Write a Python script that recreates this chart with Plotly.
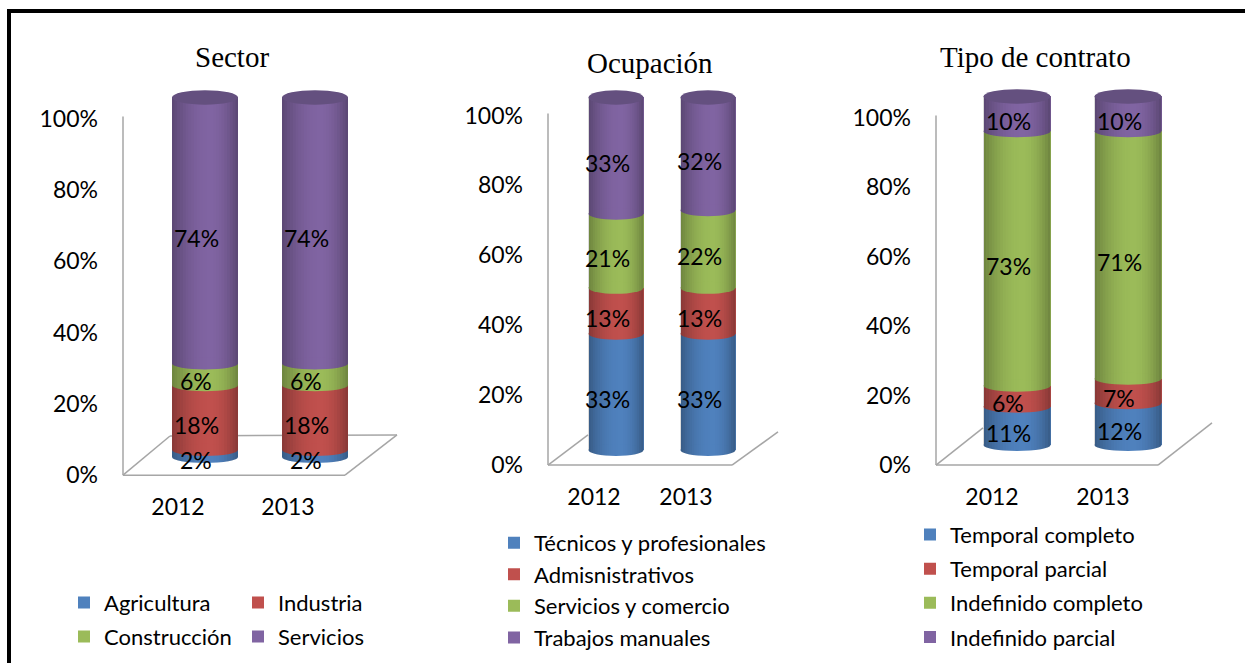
import math
import plotly.graph_objects as go

# ---------------- data ----------------
YEARS = ["2012", "2013"]
TICK_VALUES = [0, 20, 40, 60, 80, 100]
TICK_LABELS = ["0%", "20%", "40%", "60%", "80%", "100%"]

SECTOR_NAMES = ["Agricultura", "Industria", "Construcción", "Servicios"]
SECTOR_2012 = [2, 18, 6, 74]
SECTOR_2013 = [2, 18, 6, 74]

OCUP_NAMES = ["Técnicos y profesionales", "Admisnistrativos", "Servicios y comercio", "Trabajos manuales"]
OCUP_2012 = [33, 13, 21, 33]
OCUP_2013 = [33, 13, 22, 32]

CONTRATO_NAMES = ["Temporal completo", "Temporal parcial", "Indefinido completo", "Indefinido parcial"]
CONTRATO_2012 = [11, 6, 73, 10]
CONTRATO_2013 = [12, 7, 71, 10]

TITLES = ["Sector", "Ocupación", "Tipo de contrato"]

# ---------------- style / geometry ----------------
W, H = 1245, 663          # reference pixel space
FIG_H = 679               # figure height (compensates the capture's vertical scaling)
COLORS = ["#4F81BD", "#C0504D", "#9BBB59", "#8064A2"]
LID = "#64507F"
FLOOR = "#A6A6A6"
SANS = "Lato, Carlito, Calibri, sans-serif"
SERIF = "Liberation Serif, Times New Roman, serif"

# smooth cylinder shading: thin vertical bands, darker towards the edges
N_BANDS = 24
HIGHLIGHT_U = 0.15
SHADE = []
for b in range(N_BANDS):
    u0 = -1 + 2 * b / N_BANDS
    u1 = -1 + 2 * (b + 1) / N_BANDS
    um = (u0 + u1) / 2
    d = (HIGHLIGHT_U - um) / (1 + HIGHLIGHT_U) if um < HIGHLIGHT_U else (um - HIGHLIGHT_U) / (1 - HIGHLIGHT_U)
    a = 0.30 * d ** 2
    SHADE.append((u0, u1, f"rgba(0,0,0,{a:.3f})"))


def PX(x):
    return x / W


def PY(y):
    return 1 - y / H


panels = [
    dict(names=SECTOR_NAMES, v=[SECTOR_2012, SECTOR_2013], xl=123, xr=397, c=[205, 315], bw=66,
         ybot=473, y0=455, y100=97, t0=473, t100=118, title=(232, 57), lshift=-27,
         floor=[(123, 116, 123, 473), (123, 473, 345, 473), (345, 473, 397, 433),
                (397, 433, 170, 434), (170, 434, 123, 473)]),
    dict(names=OCUP_NAMES, v=[OCUP_2012, OCUP_2013], xl=548, xr=778, c=[616, 708], bw=55,
         ybot=463, y0=448, y100=97, t0=463, t100=115, title=(650, 63), lshift=-22,
         floor=[(548, 113, 548, 463), (548, 463, 732, 463), (732, 463, 778, 430),
                (548, 463, 588, 433)]),
    dict(names=CONTRATO_NAMES, v=[CONTRATO_2012, CONTRATO_2013], xl=936, xr=1212, c=[1017, 1128], bw=67,
         ybot=463, y0=443, y100=96, t0=463, t100=117, title=(1035, 57), lshift=-25,
         floor=[(936, 115, 936, 463), (936, 463, 1158, 463), (1158, 463, 1212, 421),
                (936, 463, 983, 426)]),
]

legend_of = [
    ["legend", "legend2", "legend", "legend2"],
    ["legend3"] * 4,
    ["legend4"] * 4,
]

fig = go.Figure()
layout = dict(
    width=W, height=FIG_H, margin=dict(l=0, r=0, t=0, b=0),
    paper_bgcolor="white", plot_bgcolor="rgba(0,0,0,0)",
    barmode="stack", showlegend=True,
    font=dict(family=SANS, size=22, color="black"),
)
shapes = []
annotations = []

TOP_VAL = 106
for i, p in enumerate(panels):
    n = i + 1
    sfx = "" if n == 1 else str(n)
    ppu = (p["y0"] - p["y100"]) / 100.0
    s = p["c"][1] - p["c"][0]
    xlo = (p["xl"] - p["c"][0]) / s
    xhi = (p["xr"] - p["c"][0]) / s
    ylo = -(p["ybot"] - p["y0"]) / ppu
    ytop_px = p["y0"] - TOP_VAL * ppu
    ppt = (p["t0"] - p["t100"]) / 100.0
    tlo = (p["t0"] - p["ybot"]) / ppt
    thi = (p["t0"] - ytop_px) / ppt
    width_u = p["bw"] / s
    xa, ya, ta = "x" + sfx, "y" + sfx, f"y{n + 3}"

    layout["xaxis" + sfx] = dict(
        domain=[PX(p["xl"]), PX(p["xr"])], range=[xlo, xhi], anchor=ya,
        type="category", categoryorder="array", categoryarray=YEARS,
        showgrid=False, zeroline=False, showline=False, ticks="",
        ticklabelshift=p["lshift"], ticklabelstandoff=16,
        tickfont=dict(family=SANS, size=23, color="black"), fixedrange=True)
    layout["yaxis" + sfx] = dict(
        domain=[PY(p["ybot"]), PY(ytop_px)], range=[ylo, TOP_VAL], anchor=xa,
        showgrid=False, zeroline=False, showline=False, showticklabels=False, ticks="",
        fixedrange=True)
    layout[f"yaxis{n + 3}"] = dict(
        overlaying=ya, anchor=xa, side="left", range=[tlo - 0.01, thi],
        tickmode="array", tickvals=TICK_VALUES, ticktext=TICK_LABELS,
        showgrid=False, zeroline=False, showline=False, ticks="",
        ticklabelstandoff=24, tickfont=dict(family=SANS, size=23, color="black"),
        fixedrange=True)

    # invisible trace to keep the tick axis drawn
    fig.add_trace(go.Scatter(x=[YEARS[0]], y=[None], xaxis=xa, yaxis=ta, mode="markers",
                             showlegend=False, hoverinfo="skip"))

    for k, name in enumerate(p["names"]):
        vals = [p["v"][j][k] for j in range(len(YEARS))]
        fig.add_trace(go.Bar(
            x=YEARS, y=vals, name=name, width=width_u, xaxis=xa, yaxis=ya,
            marker=dict(color=COLORS[k], line=dict(width=0)),
            legend=legend_of[i][k], legendgroup=f"p{n}s{k}",
            hovertemplate="%{x}: %{y}%<extra>" + name + "</extra>"))

    e = 6.0 / ppu
    half = width_u / 2
    for j, yr in enumerate(YEARS):
        vals = p["v"][j]
        total = sum(vals)
        base = 0
        bases = []
        for k, v in enumerate(vals):
            bases.append(base)
            shapes.append(dict(type="circle", xref=xa, yref=ya,
                               x0=j - half, x1=j + half,
                               y0=base - e, y1=base + e,
                               fillcolor=COLORS[k], line=dict(width=0), layer="above"))
            base += v
        # cylinder shading bands (follow the curved bottom edge)
        for (u0, u1, col) in SHADE:
            steps = 3
            pts_top = [(j + u0 * half, total), (j + u1 * half, total)]
            pts_bot = []
            for q in range(steps + 1):
                u = u1 - (u1 - u0) * q / steps
                pts_bot.append((j + u * half, -e * math.sqrt(max(0.0, 1 - u * u))))
            pts = pts_top + pts_bot
            path = "M " + " L ".join(f"{x:.5f},{y:.4f}" for x, y in pts) + " Z"
            shapes.append(dict(type="path", xref=xa, yref=ya, path=path,
                               fillcolor=col, line=dict(width=0), layer="above"))
        # lid
        shapes.append(dict(type="circle", xref=xa, yref=ya,
                           x0=j - half, x1=j + half,
                           y0=total - 1.2 * e, y1=total + 1.2 * e,
                           fillcolor=LID, line=dict(width=0), layer="above"))
        for k, v in enumerate(vals):
            annotations.append(dict(x=j, y=bases[k] + v / 2, xref=xa, yref=ya,
                                    text=f"{v}%", showarrow=False, xshift=-9, yshift=-7,
                                    font=dict(family=SANS, size=23, color="black")))

    for (x0, y0, x1, y1) in p["floor"]:
        shapes.append(dict(type="line", xref="paper", yref="paper",
                           x0=PX(x0), y0=PY(y0), x1=PX(x1), y1=PY(y1),
                           line=dict(color=FLOOR, width=1.5), layer="below"))

    annotations.append(dict(x=PX(p["title"][0]), y=PY(p["title"][1]), xref="paper", yref="paper",
                            text=TITLES[i], showarrow=False, xanchor="center", yanchor="middle",
                            font=dict(family=SERIF, size=29, color="black")))

# frame lines (top and left)
shapes.append(dict(type="line", xref="paper", yref="paper", x0=PX(7), x1=PX(1245), y0=PY(11), y1=PY(11),
                   line=dict(color="black", width=4)))
shapes.append(dict(type="line", xref="paper", yref="paper", x0=PX(9), x1=PX(9), y0=PY(9), y1=0,
                   line=dict(color="black", width=4)))

leg_common = dict(orientation="v", xanchor="left", yanchor="top", bgcolor="rgba(0,0,0,0)",
                  font=dict(family=SANS, size=22, color="black"), borderwidth=0)
layout["legend"] = dict(leg_common, x=PX(64), y=PY(579), tracegroupgap=2.5)
layout["legend2"] = dict(leg_common, x=PX(238), y=PY(579), tracegroupgap=2.5)
layout["legend3"] = dict(leg_common, x=PX(494), y=PY(519.5), tracegroupgap=0)
layout["legend4"] = dict(leg_common, x=PX(910), y=PY(511.5), tracegroupgap=2.5)

layout["shapes"] = shapes
layout["annotations"] = annotations
fig.update_layout(**layout)

fig.write_html("out.html", config={"displayModeBar": False},
               post_script="document.body.style.margin='0px';document.body.style.overflow='hidden';")
